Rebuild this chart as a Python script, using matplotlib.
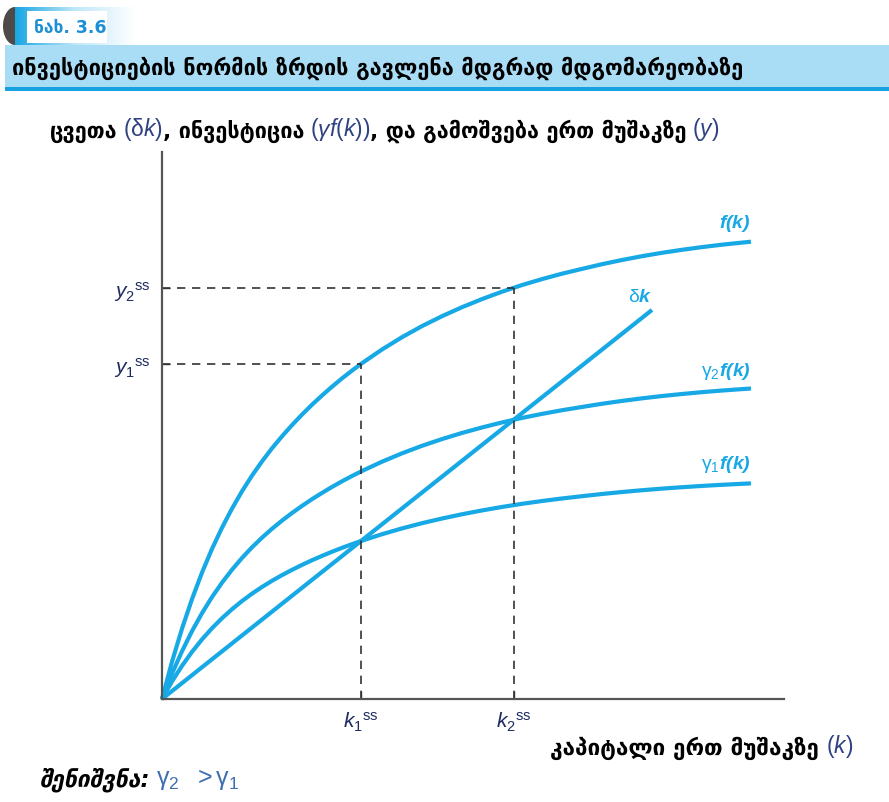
import numpy as np
import matplotlib
matplotlib.use("Agg")
import matplotlib.pyplot as plt
from matplotlib.patches import Rectangle, Polygon

plt.rcParams['font.family'] = ['DejaVu Sans']
plt.rcParams['mathtext.fontset'] = 'custom'
plt.rcParams['mathtext.rm'] = 'Liberation Sans'
plt.rcParams['mathtext.it'] = 'Liberation Sans:italic'
plt.rcParams['mathtext.bf'] = 'Liberation Sans:bold:italic'

# ---------------- data ----------------
k_pts = [0, 0.1, 0.2, 0.3, 0.4, 0.5, 0.6, 0.7, 0.8, 0.9, 1.0, 1.1, 1.2, 1.3,
         1.4, 1.5, 1.6, 1.7, 1.8, 1.9, 2.0, 2.2, 2.4, 2.6, 2.8, 3.0, 3.2, 3.4,
         3.6, 3.8, 4.0, 4.2, 4.4, 4.6, 4.8, 5.0, 5.2, 5.4, 5.6, 5.8, 5.89]
f_pts = [0, 0.3725, 0.7035, 0.999, 1.264, 1.501, 1.713, 1.904, 2.077, 2.234,
         2.376, 2.507, 2.627, 2.739, 2.844, 2.943, 3.035, 3.123, 3.206, 3.284,
         3.358, 3.495, 3.618, 3.729, 3.828, 3.918, 3.999, 4.073, 4.1395, 4.199,
         4.253, 4.301, 4.348, 4.39, 4.428, 4.462, 4.492, 4.519, 4.543, 4.564, 4.573]
gamma1 = 0.4715
gamma2 = 0.679
delta = 0.794
k_delta = [0, 4.90]
k_ss = [1.99, 3.52]
y_ss = [3.35, 4.115]
x_ticklabels = [r'$k_1{}^{\mathrm{ss}}$', r'$k_2{}^{\mathrm{ss}}$']
y_ticklabels = [r'$y_1{}^{\mathrm{ss}}$', r'$y_2{}^{\mathrm{ss}}$']

fig_label = "ნახ. 3.6"
title = "ინვესტიციების ნორმის ზრდის გავლენა მდგრად მდგომარეობაზე"

CURVE = '#17a8e6'
NAVY = '#2e4282'
AXC = '#555555'

W, H = 889, 803
fig = plt.figure(figsize=(W / 100, H / 100), dpi=100)
bg = fig.add_axes([0, 0, 1, 1])
bg.set_xlim(0, W)
bg.set_ylim(H, 0)
bg.axis('off')

# ---------------- header ----------------
grad = np.linspace(0, 1, 200)[None, :]
cmap = matplotlib.colors.LinearSegmentedColormap.from_list('g', ['#18a6e4', '#bfe7f8', '#ffffff'])
bg.imshow(grad, extent=(15, 135, 46, 8), cmap=cmap, aspect='auto', zorder=1)
bg.add_patch(Rectangle((27, 12), 80, 32, facecolor='white', edgecolor='none', zorder=2))
th = np.linspace(np.pi / 2, 3 * np.pi / 2, 40)
tab = np.column_stack([15 + 12 * np.cos(th), 27 - 19 * np.sin(th)])
bg.add_patch(Polygon(tab, closed=True, facecolor='#4d4a48', edgecolor='none', zorder=3))
bg.text(34, 28, fig_label, color='#1c8fd6', fontsize=12.5, fontweight='bold',
        va='center', ha='left', zorder=4)
bg.add_patch(Rectangle((5, 46), W - 5, 42, facecolor='#a9ddf6', edgecolor='none', zorder=1))
bg.add_patch(Rectangle((5, 88), W - 5, 4, facecolor='#17a1e0', edgecolor='none', zorder=1))
bg.text(12, 68, title, color='black', fontsize=15.7, fontweight='bold',
        va='center', ha='left', zorder=4)


def chain(x, y, parts):
    prev = bg.text(x, y, parts[0][0], va='baseline', ha='left', **parts[0][1])
    for s, kw, gap in parts[1:]:
        prev = bg.annotate(s, xy=(1, 0), xycoords=prev, xytext=(gap, 0),
                           textcoords='offset points', va='bottom', ha='left', **kw)


G = dict(color='black', fontsize=15.6, fontweight='bold')
M = dict(color=NAVY, fontsize=16.5)
chain(50, 138, [("ცვეთა", G),
                (r'$(\mathrm{\delta}k)$', M, 4),
                (", ინვესტიცია", G, 0),
                (r'$(\gamma f(k))$', M, 4),
                (", და გამოშვება ერთ მუშაკზე", G, 0),
                (r'$(y)$', M, 4)])
G2 = dict(color='black', fontsize=16.2, fontweight='bold')
chain(550, 755, [("კაპიტალი ერთ მუშაკზე", G2),
                 (r'$(k)$', M, 5)])
chain(40, 786, [("შენიშვნა:", dict(color='black', fontsize=16.5, fontweight='bold',
                                    fontstyle='italic')),
                (r'$\mathrm{\gamma_2\ \ >\gamma_1}$', dict(color='#3f6fb2', fontsize=18), 4)])

# ---------------- chart ----------------
ax = fig.add_axes([162 / W, 103 / H, 622 / W, 547 / H])
ax.set_xlim(0, 6.22)
ax.set_ylim(0, 5.47)
ax.patch.set_alpha(0)
for s in ['top', 'right']:
    ax.spines[s].set_visible(False)
for s in ['left', 'bottom']:
    ax.spines[s].set_color(AXC)
    ax.spines[s].set_linewidth(1.6)

k = np.array(k_pts)
f = np.array(f_pts)
LS = dict(color=CURVE, lw=3.0, solid_capstyle='butt', solid_joinstyle='round', clip_on=False)
ax.plot(k, f, **LS)
ax.plot(k, gamma2 * f, **LS)
ax.plot(k, gamma1 * f, **LS)
kd = np.array(k_delta)
ax.plot(kd, delta * kd, **LS)

for kk, yy in zip(k_ss, y_ss):
    ax.plot([0, kk], [yy, yy], color='#333333', lw=1.2, dashes=(5, 4))
    ax.plot([kk, kk], [0, yy], color='#333333', lw=1.2, dashes=(5, 4))

ax.set_xticks(k_ss)
ax.set_xticklabels(x_ticklabels)
ax.set_yticks(y_ss)
ax.set_yticklabels(y_ticklabels)
ax.tick_params(direction='in', length=6, width=1, color='#333333', labelsize=15,
               labelcolor='#1e2b60', pad=8)

LB = dict(color=CURVE, fontsize=14)
ax.text(5.89, 4.72, r'$\mathbf{f(k)}$', ha='right', va='baseline', **LB)
ax.text(4.78, 3.98, r'$\mathrm{\delta}\mathbf{k}$', ha='center', va='baseline', **LB)
ax.text(5.89, 3.24, r'$\mathrm{\gamma_2}\mathbf{f(k)}$', ha='right', va='baseline', **LB)
ax.text(5.89, 2.31, r'$\mathrm{\gamma_1}\mathbf{f(k)}$', ha='right', va='baseline', **LB)

fig.savefig('out.png', dpi=100)
